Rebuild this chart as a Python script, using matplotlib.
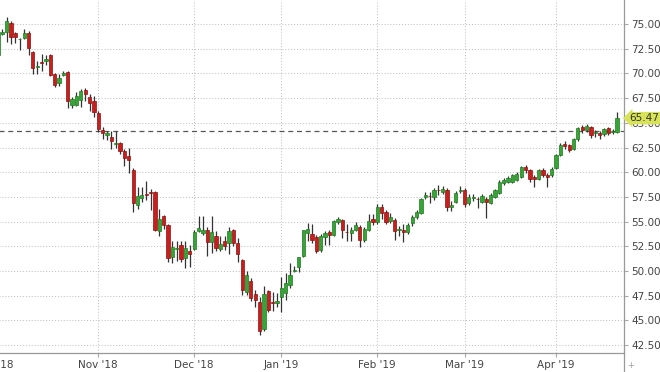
import numpy as np
import pandas as pd
import matplotlib
matplotlib.use('Agg')
import matplotlib.pyplot as plt
import matplotlib.transforms as mtransforms
from matplotlib.lines import Line2D

# trading days, exchange closed on these
closed = ['2018-12-25', '2019-01-01', '2019-04-19']
dates = pd.bdate_range('2018-10-01', '2019-04-22')
dates = dates[~dates.isin(pd.to_datetime(closed))]

opens = [71.9, 74.0, 74.2, 75.1, 74.1, 73.45, 73.6, 74.1, 72.2, 70.6, 71.2, 71.3, 71.9, 69.9, 69.0, 69.85, 70.1, 66.8, 66.8, 67.3, 68.3, 67.6, 67.2,
         66.0, 64.3, 63.8, 63.6, 62.85, 63.0, 62.1, 61.6, 60.2, 56.7, 57.4, 57.75, 58.0, 58.0, 54.0, 55.6, 54.7, 51.45, 52.2, 52.6, 51.3, 52.05,
         52.2, 54.05, 53.8, 54.2, 52.9, 53.5, 52.2, 53.0, 52.8, 54.15, 52.8, 51.1, 47.9, 49.0, 47.7, 46.9, 44.1, 48.0, 46.85, 46.75,
         47.4, 47.75, 48.6, 50.0, 50.4, 51.5, 53.8, 53.75, 53.4, 52.1, 53.4, 53.9, 53.6, 55.0, 55.15, 53.95, 53.85, 54.2, 54.5, 53.1, 54.2, 55.3,
         55.0, 56.45, 56.0, 55.1, 55.2, 54.2, 54.15, 53.9, 54.85, 55.5, 55.9, 57.5, 57.6, 57.5, 58.2, 57.95, 58.2, 56.5, 57.0, 58.1,
         58.2, 56.85, 57.35, 57.3, 57.0, 57.3, 56.9, 57.5, 57.85, 58.9, 59.05, 59.0, 59.25, 59.55, 60.5, 60.2, 59.55, 59.3, 60.2, 59.7, 59.7,
         60.4, 61.75, 62.9, 62.75, 62.3, 63.35, 64.55, 64.25, 64.6, 63.95, 64.0, 63.85, 64.45, 64.05, 64.1]
highs = [74.3, 74.5, 75.7, 75.3, 74.2, 73.6, 74.5, 74.3, 72.3, 71.3, 72.0, 71.9, 71.95, 70.0, 69.9, 70.2, 70.2, 67.6, 68.1, 68.4, 68.5, 67.9, 67.7,
         66.2, 64.6, 64.2, 64.2, 64.2, 63.1, 62.3, 62.4, 60.4, 58.5, 58.5, 59.1, 58.3, 58.1, 56.3, 55.7, 54.8, 53.0, 53.0, 53.0, 53.0, 52.6,
         54.2, 55.6, 55.6, 54.5, 55.6, 54.0, 53.5, 53.5, 54.5, 54.3, 53.3, 51.2, 50.0, 49.3, 48.1, 47.4, 48.5, 48.1, 47.9, 47.8,
         49.4, 49.8, 50.8, 50.5, 51.4, 54.2, 54.9, 54.8, 53.6, 53.7, 54.0, 54.1, 55.2, 55.5, 55.3, 54.8, 54.5, 55.0, 54.7, 54.5, 55.8, 55.8,
         56.8, 56.8, 56.2, 55.9, 55.4, 54.6, 54.8, 54.9, 55.7, 56.2, 57.4, 58.0, 58.0, 58.4, 58.7, 58.6, 58.4, 57.1, 58.1, 58.6,
         58.4, 57.8, 57.8, 57.5, 57.8, 57.5, 57.9, 58.3, 59.2, 59.4, 59.6, 59.8, 60.0, 60.6, 60.7, 60.3, 59.7, 60.3, 60.4, 59.9, 60.5,
         61.8, 63.0, 63.2, 62.9, 63.5, 64.6, 64.8, 64.9, 64.7, 64.3, 64.2, 64.5, 64.6, 64.4, 66.1]
lows = [71.6, 73.9, 73.2, 73.0, 73.1, 72.4, 73.5, 71.9, 69.9, 69.9, 70.2, 70.9, 69.7, 68.6, 68.7, 69.7, 66.5, 66.5, 66.7, 66.6, 67.2, 66.2, 65.6,
        64.1, 63.4, 63.3, 62.3, 62.5, 61.8, 60.6, 59.9, 56.0, 56.3, 57.0, 57.2, 56.2, 54.0, 53.5, 54.3, 50.9, 50.8, 51.0, 50.9, 50.3, 50.4,
        52.1, 53.9, 53.6, 51.5, 51.8, 52.0, 52.0, 52.1, 51.7, 52.5, 50.9, 47.6, 47.6, 47.0, 46.4, 43.5, 43.9, 45.8, 46.0, 46.4,
        45.9, 47.1, 48.3, 49.9, 49.9, 51.4, 53.0, 52.8, 51.8, 51.9, 52.6, 52.6, 53.5, 54.8, 53.3, 53.0, 53.0, 54.0, 52.4, 52.9, 54.0, 54.7,
        54.8, 55.3, 54.8, 54.9, 53.1, 53.5, 52.9, 53.7, 54.6, 55.3, 55.8, 57.3, 56.9, 57.2, 57.7, 57.8, 56.1, 56.1, 56.9, 57.9,
        56.5, 56.7, 57.1, 56.4, 56.9, 55.35, 56.8, 57.4, 57.8, 58.7, 58.9, 58.9, 59.1, 59.4, 59.9, 59.0, 58.5, 59.2, 59.5, 58.5, 59.5,
        60.3, 61.6, 62.3, 62.0, 62.2, 63.2, 64.0, 64.1, 63.5, 63.6, 63.4, 63.7, 63.8, 63.9, 64.0]
closes = [74.2, 74.2, 75.3, 73.7, 73.7, 73.5, 74.1, 72.6, 70.5, 70.8, 71.1, 71.5, 69.8, 68.8, 69.5, 70.0, 67.2, 67.4, 67.7, 68.2, 67.9, 67.0, 66.1,
          64.4, 64.0, 63.95, 63.2, 63.0, 62.1, 61.4, 61.2, 56.9, 57.6, 57.7, 57.65, 57.9, 54.1, 55.3, 54.7, 51.3, 52.45, 52.35, 51.2, 52.3, 51.7,
          53.9, 54.4, 54.15, 52.9, 53.9, 52.3, 52.7, 52.55, 54.0, 52.8, 51.7, 48.1, 49.6, 47.3, 47.05, 43.9, 47.7, 46.1, 46.75, 46.95,
          48.25, 48.75, 49.6, 50.15, 51.4, 54.1, 54.3, 53.15, 52.05, 53.55, 53.8, 53.65, 55.05, 55.25, 54.15, 53.9, 54.15, 54.65, 53.1, 54.3, 55.05, 55.0,
          56.45, 55.9, 55.0, 55.5, 54.0, 54.25, 53.9, 54.65, 55.5, 56.0, 57.25, 57.7, 57.55, 58.2, 58.15, 58.35, 56.5, 56.7, 57.9, 58.2,
          56.8, 57.5, 57.5, 57.25, 57.6, 57.0, 57.7, 58.2, 59.05, 59.2, 59.4, 59.7, 59.85, 60.5, 60.2, 59.3, 59.3, 60.2, 59.7, 59.55, 60.3,
          61.7, 62.75, 62.65, 62.25, 63.35, 64.45, 64.25, 64.7, 63.75, 64.1, 63.75, 64.35, 64.0, 64.17, 65.47]

o = np.array(opens)
c = np.array(closes)
x = np.arange(len(dates))
up = c >= o

fig = plt.figure(figsize=(6.6, 3.72), dpi=100)
# left edge sits a little off the canvas so the first candle is cut
ax = fig.add_axes([-4.2/660, 19/372, 628.2/660, 353/372])

# wicks then bodies
ax.vlines(x, lows, highs, color='#333333', lw=0.9, zorder=2)
body = np.maximum(np.abs(c - o), 0.08)
ax.bar(x, body, bottom=np.minimum(o, c), width=0.74,
       color=np.where(up, '#35a535', '#c81e1e'),
       edgecolor=np.where(up, '#217a21', '#8c1212'), linewidth=0.5, zorder=3)

# previous close line and last price tag
ax.axhline(closes[-2], color='#555555', lw=0.9, ls=(0, (4, 3)), zorder=1)
ax.text(1.009, closes[-1], '%.2f' % closes[-1], transform=ax.get_yaxis_transform(),
        fontsize=7.5, color='#333333', va='center', ha='left', zorder=5,
        bbox=dict(boxstyle='larrow,pad=0.12', fc='#d8e35a', ec='none'))

# month ticks
ticks = [0] + [i for i in range(1, len(dates)) if dates[i].month != dates[i - 1].month]
ax.set_xticks(ticks)
ax.set_xticklabels(dates[ticks].strftime("%b '%y"))
ax.set_yticks(np.arange(42.5, 75.1, 2.5))
ax.yaxis.set_major_formatter(plt.FormatStrFormatter('%.2f'))
ax.yaxis.tick_right()

ax.set_xlim(-0.5, 143.58)
ax.set_ylim(41.70, 77.43)

ax.grid(True, color='#bbbbbb', lw=0.7, ls=(0, (1, 2)))
ax.set_axisbelow(True)
for s in ['top', 'left']:
    ax.spines[s].set_visible(False)
for s in ['right', 'bottom']:
    ax.spines[s].set_color('#999999')
    ax.spines[s].set_linewidth(0.9)
ax.tick_params(axis='both', labelsize=7.5, labelcolor='#444444', color='#aaaaaa', length=3, pad=2)

# first label sits partly off the left edge
lab = ax.get_xticklabels()[0]
lab.set_transform(lab.get_transform() + mtransforms.ScaledTranslation(-3/100, 0, fig.dpi_scale_trans))

fig.add_artist(Line2D([624/660, 624/660], [0, 19/372], color='#999999', lw=0.9))
fig.text(627/660, 1 - 365/372, '+', fontsize=6, color='#999999', ha='left', va='center')

fig.savefig('out.png', dpi=100)
